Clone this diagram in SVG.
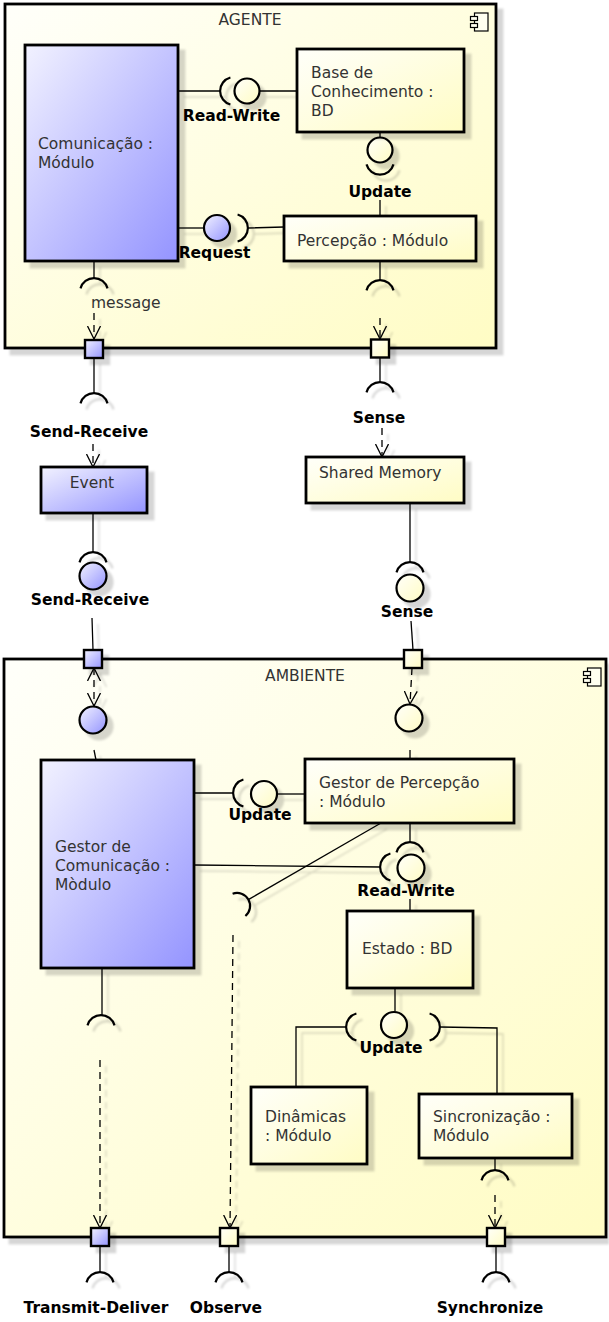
<svg xmlns="http://www.w3.org/2000/svg" width="609" height="1322" viewBox="0 0 609 1322">
<style>
.box{stroke:#000;stroke-width:2.8}
.port{stroke:#000;stroke-width:2.4}
.n{font-family:"DejaVu Sans","Liberation Sans",sans-serif;font-size:15.5px;fill:#333}
.b{font-family:"DejaVu Sans","Liberation Sans",sans-serif;font-size:15.5px;font-weight:bold;fill:#000}
.m{text-anchor:middle}
.dash{stroke-dasharray:7 5}
.ifc{stroke:#000;stroke-width:2.2}
</style>
<defs>
<linearGradient id="gy" x1="0" y1="0" x2="1" y2="1"><stop offset="0" stop-color="#FFFFFA"/><stop offset="1" stop-color="#FFFCC4"/></linearGradient>
<linearGradient id="gb" x1="0" y1="0" x2="1" y2="1"><stop offset="0" stop-color="#F2F2FF"/><stop offset="1" stop-color="#9494FF"/></linearGradient>
<filter id="sh" filterUnits="userSpaceOnUse" x="0" y="0" width="609" height="1322">
<feOffset in="SourceAlpha" dx="6" dy="6" result="o"/>
<feGaussianBlur in="o" stdDeviation="0.8" result="bl"/>
<feFlood flood-color="#000" flood-opacity="0.16"/>
<feComposite in2="bl" operator="in" result="s"/>
<feMerge><feMergeNode in="s"/><feMergeNode in="SourceGraphic"/></feMerge>
</filter>
<marker id="v" viewBox="0 0 14 14" refX="13" refY="7" markerWidth="14" markerHeight="14" markerUnits="userSpaceOnUse" orient="auto-start-reverse">
<path d="M0,0.5 L13,7 L0,13.5" fill="none" stroke="#000" stroke-width="1.3"/>
</marker>
</defs>
<rect width="609" height="1322" fill="#fff"/>

<!-- containers -->
<g id="agente">
<rect class="box" x="5" y="4" width="491" height="344" fill="url(#gy)" filter="url(#sh)"/>
<text class="n m" x="250" y="25">AGENTE</text>
<g fill="#FFFFF0" stroke="#000" stroke-width="1.2">
<rect x="474.5" y="13" width="13.5" height="18"/>
<rect x="470.5" y="16.5" width="7" height="4"/>
<rect x="470.5" y="23.5" width="7" height="4"/>
</g>
</g>
<g id="ambiente">
<rect class="box" x="4" y="659" width="602" height="578" fill="url(#gy)" filter="url(#sh)"/>
<text class="n m" x="305" y="681">AMBIENTE</text>
<g fill="#FFFFF0" stroke="#000" stroke-width="1.2">
<rect x="587.5" y="668" width="13.5" height="18"/>
<rect x="583.5" y="671.5" width="7" height="4"/>
<rect x="583.5" y="678.5" width="7" height="4"/>
</g>
</g>

<!-- connectors -->
<g id="connectors" filter="url(#sh)">
<g fill="none" stroke="#000" stroke-width="1.3">
<path d="M178 91H220"/><path d="M259.5 91H297"/>
<path d="M380 132V137.5"/><path d="M380 200V216"/>
<path d="M178 228H204"/><path d="M248 228L284 227"/>
<path d="M94 261V278"/>
<path class="dash" d="M94 313V339" marker-end="url(#v)"/>
<path d="M380 261V280"/>
<path class="dash" d="M380 318V339" marker-end="url(#v)"/>
<path d="M94 358V393"/>
<path class="dash" d="M93 444V467" marker-end="url(#v)"/>
<path d="M93 513V552"/>
<path d="M92 618L93 650"/>
<path d="M380 358V382"/>
<path class="dash" d="M382 428V457" marker-end="url(#v)"/>
<path d="M410 503V562"/>
<path d="M411 621L413 650"/>
<path class="dash" d="M94 668V706" marker-start="url(#v)" marker-end="url(#v)"/>
<path d="M94 750L96 760"/>
<path class="dash" d="M412 668L410 704" marker-end="url(#v)"/>
<path d="M410 750V759"/>
<path d="M194 793H233"/><path d="M277 794H305"/>
<path d="M194 865L380 867"/>
<path d="M410 823V842"/>
<path d="M410 899V911"/>
<path d="M381 823L248.3 899.6"/>
<path class="dash" d="M233 935L230 1228" marker-end="url(#v)"/>
<path d="M395 988V1011.5"/>
<path d="M346 1027H296V1087"/>
<path d="M440 1027L497 1028V1094"/>
<path d="M102 968V1015"/>
<path class="dash" d="M100 1060V1228" marker-end="url(#v)"/>
<path d="M495 1158V1170"/>
<path class="dash" d="M495 1195V1228" marker-end="url(#v)"/>
<path d="M100 1246V1272"/><path d="M229 1246V1272"/><path d="M496 1246V1272"/>
</g>
<g id="sockets" class="ifc" fill="none">
<path d="M230.4 77.5A14 14 0 0 0 230.4 104.5"/>
<path d="M366.5 164.4A14 14 0 0 0 393.5 164.4"/>
<path d="M237.6 214.5A14 14 0 0 1 237.6 241.5"/>
<path d="M80.5 288.4A14 14 0 0 1 107.5 288.4"/>
<path d="M366.5 290.4A14 14 0 0 1 393.5 290.4"/>
<path d="M80.5 403.4A14 14 0 0 1 107.5 403.4"/>
<path d="M79.5 562.4A14 14 0 0 1 106.5 562.4"/>
<path d="M366.5 392.4A14 14 0 0 1 393.5 392.4"/>
<path d="M396.5 572.4A14 14 0 0 1 423.5 572.4"/>
<path d="M243.4 779.5A14 14 0 0 0 243.4 806.5"/>
<path d="M390.4 853.5A14 14 0 0 0 390.4 880.5"/>
<path d="M396.5 852.4A14 14 0 0 1 423.5 852.4"/>
<path d="M232.6 893.8A13 13 0 0 1 245.4 916"/>
<path d="M356.4 1013.5A14 14 0 0 0 356.4 1040.5"/>
<path d="M429.6 1013.5A14 14 0 0 1 429.6 1040.5"/>
<path d="M87.5 1025.4A14 14 0 0 1 114.5 1025.4"/>
<path d="M481.5 1180.4A14 14 0 0 1 508.5 1180.4"/>
<path d="M86.5 1282.4A14 14 0 0 1 113.5 1282.4"/>
<path d="M215.5 1282.4A14 14 0 0 1 242.5 1282.4"/>
<path d="M482.5 1282.4A14 14 0 0 1 509.5 1282.4"/>
</g>
<g id="balls" class="ifc">
<circle id="if-rw-agente" cx="247" cy="91" r="12.5" fill="url(#gy)"/>
<circle id="if-update-agente" cx="380" cy="150" r="12.5" fill="url(#gy)"/>
<circle id="if-request" cx="217" cy="228" r="13" fill="url(#gb)"/>
<circle id="if-sendreceive" cx="93" cy="576" r="13.5" fill="url(#gb)"/>
<circle id="if-sense" cx="410" cy="588" r="13.5" fill="url(#gy)"/>
<circle id="if-amb-left" cx="93" cy="720" r="13.5" fill="url(#gb)"/>
<circle id="if-amb-right" cx="409" cy="718" r="13.5" fill="url(#gy)"/>
<circle id="if-update-amb" cx="264" cy="794" r="13" fill="url(#gy)"/>
<circle id="if-rw-amb" cx="411" cy="868" r="13.5" fill="url(#gy)"/>
<circle id="if-update-estado" cx="394" cy="1025" r="13" fill="url(#gy)"/>
</g>
</g>

<!-- ports -->
<g id="ports" class="port" filter="url(#sh)">
<rect x="85" y="340" width="18" height="18" fill="url(#gb)"/>
<rect x="371" y="339.5" width="18" height="18" fill="url(#gy)"/>
<rect x="84" y="650" width="18" height="18" fill="url(#gb)"/>
<rect x="404" y="650" width="18" height="18" fill="url(#gy)"/>
<rect x="91" y="1228" width="18" height="18" fill="url(#gb)"/>
<rect x="220" y="1228" width="18" height="18" fill="url(#gy)"/>
<rect x="487" y="1228" width="18" height="18" fill="url(#gy)"/>
</g>

<!-- nodes -->
<g id="comunicacao">
<rect class="box" x="25" y="45" width="153" height="216" fill="url(#gb)" filter="url(#sh)"/>
<text class="n" x="38" y="149">Comunicação :</text>
<text class="n" x="38" y="168">Módulo</text>
</g>
<g id="base-conhecimento">
<rect class="box" x="297" y="49" width="167" height="83" fill="url(#gy)" filter="url(#sh)"/>
<text class="n" x="311" y="78">Base de</text>
<text class="n" x="311" y="97">Conhecimento :</text>
<text class="n" x="311" y="116">BD</text>
</g>
<g id="percepcao">
<rect class="box" x="284" y="216" width="192" height="45" fill="url(#gy)" filter="url(#sh)"/>
<text class="n" x="297" y="246">Percepção : Módulo</text>
</g>
<g id="event">
<rect class="box" x="41" y="467" width="106" height="46" fill="url(#gb)" filter="url(#sh)"/>
<text class="n m" x="92" y="488">Event</text>
</g>
<g id="shared-memory">
<rect class="box" x="306" y="457" width="158" height="46" fill="url(#gy)" filter="url(#sh)"/>
<text class="n" x="319" y="478">Shared Memory</text>
</g>
<g id="gestor-comunicacao">
<rect class="box" x="41" y="760" width="153" height="208" fill="url(#gb)" filter="url(#sh)"/>
<text class="n" x="55" y="852">Gestor de</text>
<text class="n" x="55" y="871">Comunicação :</text>
<text class="n" x="55" y="890">Mòdulo</text>
</g>
<g id="gestor-percepcao">
<rect class="box" x="305" y="759" width="209" height="64" fill="url(#gy)" filter="url(#sh)"/>
<text class="n" x="319" y="788">Gestor de Percepção</text>
<text class="n" x="319" y="807">: Módulo</text>
</g>
<g id="estado">
<rect class="box" x="347" y="911" width="126" height="77" fill="url(#gy)" filter="url(#sh)"/>
<text class="n" x="362" y="954">Estado : BD</text>
</g>
<g id="dinamicas">
<rect class="box" x="251" y="1087" width="116" height="77" fill="url(#gy)" filter="url(#sh)"/>
<text class="n" x="265" y="1122">Dinâmicas</text>
<text class="n" x="265" y="1141">: Módulo</text>
</g>
<g id="sincronizacao">
<rect class="box" x="419" y="1094" width="153" height="64" fill="url(#gy)" filter="url(#sh)"/>
<text class="n" x="433" y="1122">Sincronização :</text>
<text class="n" x="433" y="1141">Módulo</text>
</g>

<!-- labels -->
<g id="labels">
<text class="b m" x="231.5" y="121">Read-Write</text>
<text class="b m" x="380" y="197">Update</text>
<text class="b m" x="214.5" y="258">Request</text>
<text class="n" x="91" y="308">message</text>
<text class="b m" x="89" y="437">Send-Receive</text>
<text class="b m" x="379" y="423">Sense</text>
<text class="b m" x="90" y="605">Send-Receive</text>
<text class="b m" x="407" y="617">Sense</text>
<text class="b m" x="260" y="820">Update</text>
<text class="b m" x="406" y="896">Read-Write</text>
<text class="b m" x="391" y="1053">Update</text>
<text class="b m" x="96" y="1313">Transmit-Deliver</text>
<text class="b m" x="226" y="1313">Observe</text>
<text class="b m" x="490" y="1313">Synchronize</text>
</g>
</svg>
